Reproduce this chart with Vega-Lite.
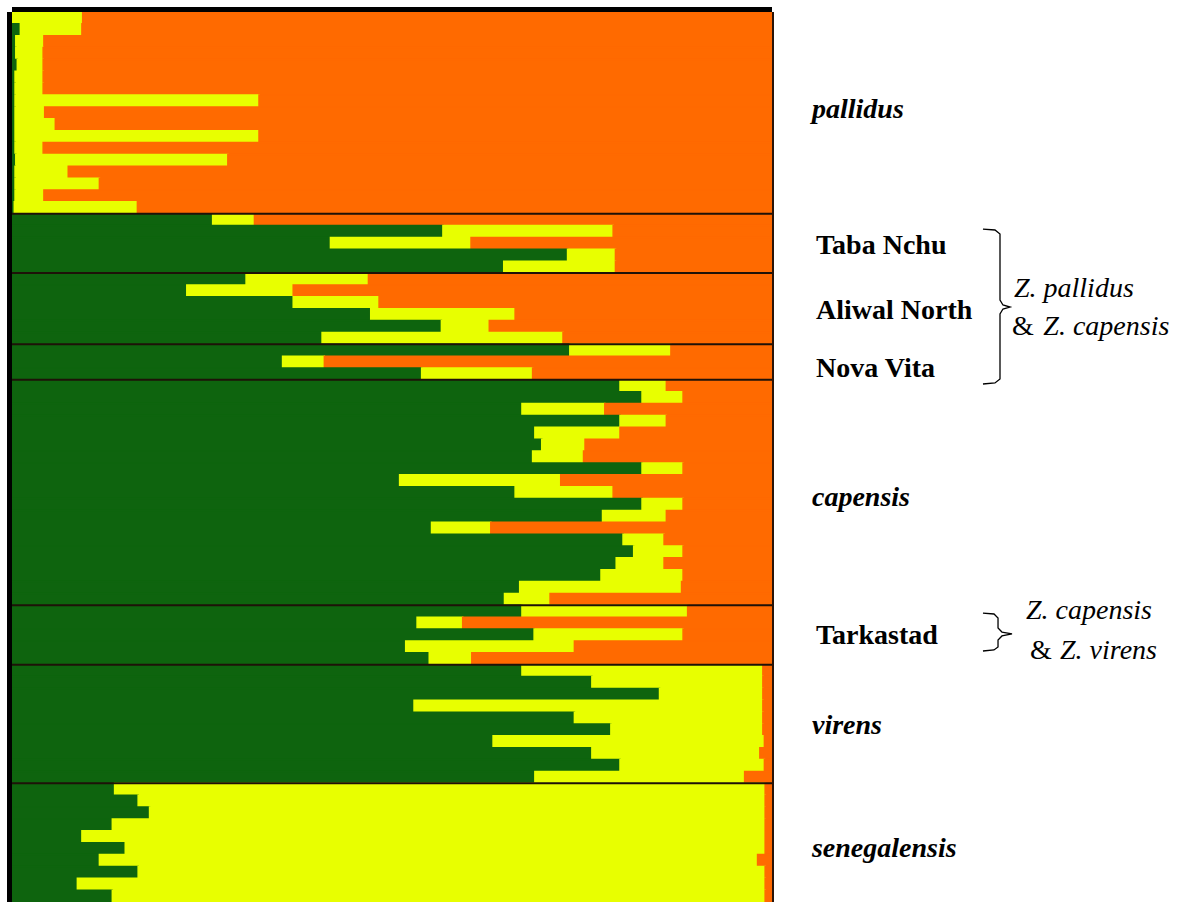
{
  "$schema": "https://vega.github.io/schema/vega-lite/v6.json",
  "width": 760,
  "height": 890,
  "autosize": {"type": "none"},
  "padding": {"left": 12, "top": 12, "right": 418, "bottom": 0},
  "background": "white",
  "config": {"view": {"stroke": null}},
  "datasets": {
    "q": [
      {"ind": 1, "K1": 0.001, "K2": 0.092, "K3": 0.907},
      {"ind": 2, "K1": 0.011, "K2": 0.081, "K3": 0.908},
      {"ind": 3, "K1": 0.005, "K2": 0.037, "K3": 0.958},
      {"ind": 4, "K1": 0.005, "K2": 0.036, "K3": 0.959},
      {"ind": 5, "K1": 0.007, "K2": 0.034, "K3": 0.959},
      {"ind": 6, "K1": 0.004, "K2": 0.037, "K3": 0.959},
      {"ind": 7, "K1": 0.004, "K2": 0.037, "K3": 0.959},
      {"ind": 8, "K1": 0.004, "K2": 0.321, "K3": 0.675},
      {"ind": 9, "K1": 0.004, "K2": 0.039, "K3": 0.957},
      {"ind": 10, "K1": 0.004, "K2": 0.053, "K3": 0.943},
      {"ind": 11, "K1": 0.004, "K2": 0.321, "K3": 0.675},
      {"ind": 12, "K1": 0.004, "K2": 0.037, "K3": 0.959},
      {"ind": 13, "K1": 0.005, "K2": 0.279, "K3": 0.716},
      {"ind": 14, "K1": 0.004, "K2": 0.070, "K3": 0.926},
      {"ind": 15, "K1": 0.004, "K2": 0.111, "K3": 0.885},
      {"ind": 16, "K1": 0.004, "K2": 0.038, "K3": 0.958},
      {"ind": 17, "K1": 0.003, "K2": 0.162, "K3": 0.835},
      {"ind": 18, "K1": 0.264, "K2": 0.055, "K3": 0.681},
      {"ind": 19, "K1": 0.567, "K2": 0.224, "K3": 0.209},
      {"ind": 20, "K1": 0.419, "K2": 0.185, "K3": 0.396},
      {"ind": 21, "K1": 0.731, "K2": 0.063, "K3": 0.206},
      {"ind": 22, "K1": 0.647, "K2": 0.147, "K3": 0.206},
      {"ind": 23, "K1": 0.308, "K2": 0.161, "K3": 0.531},
      {"ind": 24, "K1": 0.230, "K2": 0.140, "K3": 0.630},
      {"ind": 25, "K1": 0.370, "K2": 0.113, "K3": 0.517},
      {"ind": 26, "K1": 0.472, "K2": 0.190, "K3": 0.338},
      {"ind": 27, "K1": 0.565, "K2": 0.063, "K3": 0.372},
      {"ind": 28, "K1": 0.408, "K2": 0.317, "K3": 0.275},
      {"ind": 29, "K1": 0.734, "K2": 0.133, "K3": 0.133},
      {"ind": 30, "K1": 0.356, "K2": 0.055, "K3": 0.589},
      {"ind": 31, "K1": 0.539, "K2": 0.146, "K3": 0.315},
      {"ind": 32, "K1": 0.800, "K2": 0.061, "K3": 0.139},
      {"ind": 33, "K1": 0.829, "K2": 0.054, "K3": 0.117},
      {"ind": 34, "K1": 0.671, "K2": 0.109, "K3": 0.220},
      {"ind": 35, "K1": 0.800, "K2": 0.061, "K3": 0.139},
      {"ind": 36, "K1": 0.688, "K2": 0.112, "K3": 0.200},
      {"ind": 37, "K1": 0.697, "K2": 0.057, "K3": 0.246},
      {"ind": 38, "K1": 0.685, "K2": 0.067, "K3": 0.248},
      {"ind": 39, "K1": 0.829, "K2": 0.054, "K3": 0.117},
      {"ind": 40, "K1": 0.510, "K2": 0.212, "K3": 0.278},
      {"ind": 41, "K1": 0.662, "K2": 0.129, "K3": 0.209},
      {"ind": 42, "K1": 0.829, "K2": 0.054, "K3": 0.117},
      {"ind": 43, "K1": 0.777, "K2": 0.084, "K3": 0.139},
      {"ind": 44, "K1": 0.552, "K2": 0.078, "K3": 0.370},
      {"ind": 45, "K1": 0.804, "K2": 0.054, "K3": 0.142},
      {"ind": 46, "K1": 0.818, "K2": 0.065, "K3": 0.117},
      {"ind": 47, "K1": 0.795, "K2": 0.063, "K3": 0.142},
      {"ind": 48, "K1": 0.775, "K2": 0.108, "K3": 0.117},
      {"ind": 49, "K1": 0.668, "K2": 0.213, "K3": 0.119},
      {"ind": 50, "K1": 0.648, "K2": 0.060, "K3": 0.292},
      {"ind": 51, "K1": 0.671, "K2": 0.218, "K3": 0.111},
      {"ind": 52, "K1": 0.533, "K2": 0.060, "K3": 0.407},
      {"ind": 53, "K1": 0.687, "K2": 0.196, "K3": 0.117},
      {"ind": 54, "K1": 0.518, "K2": 0.222, "K3": 0.260},
      {"ind": 55, "K1": 0.549, "K2": 0.056, "K3": 0.395},
      {"ind": 56, "K1": 0.671, "K2": 0.317, "K3": 0.012},
      {"ind": 57, "K1": 0.763, "K2": 0.225, "K3": 0.012},
      {"ind": 58, "K1": 0.852, "K2": 0.136, "K3": 0.012},
      {"ind": 59, "K1": 0.529, "K2": 0.459, "K3": 0.012},
      {"ind": 60, "K1": 0.740, "K2": 0.248, "K3": 0.012},
      {"ind": 61, "K1": 0.788, "K2": 0.200, "K3": 0.012},
      {"ind": 62, "K1": 0.633, "K2": 0.357, "K3": 0.010},
      {"ind": 63, "K1": 0.763, "K2": 0.221, "K3": 0.016},
      {"ind": 64, "K1": 0.800, "K2": 0.190, "K3": 0.010},
      {"ind": 65, "K1": 0.688, "K2": 0.276, "K3": 0.036},
      {"ind": 66, "K1": 0.135, "K2": 0.856, "K3": 0.009},
      {"ind": 67, "K1": 0.166, "K2": 0.825, "K3": 0.009},
      {"ind": 68, "K1": 0.181, "K2": 0.810, "K3": 0.009},
      {"ind": 69, "K1": 0.132, "K2": 0.859, "K3": 0.009},
      {"ind": 70, "K1": 0.092, "K2": 0.899, "K3": 0.009},
      {"ind": 71, "K1": 0.149, "K2": 0.842, "K3": 0.009},
      {"ind": 72, "K1": 0.115, "K2": 0.866, "K3": 0.019},
      {"ind": 73, "K1": 0.166, "K2": 0.825, "K3": 0.009},
      {"ind": 74, "K1": 0.086, "K2": 0.905, "K3": 0.009},
      {"ind": 75, "K1": 0.132, "K2": 0.859, "K3": 0.009}
    ],
    "groups": [
      {"boundary": 17}, {"boundary": 22}, {"boundary": 28}, {"boundary": 31},
      {"boundary": 50}, {"boundary": 55}, {"boundary": 65}
    ],
    "species": [
      {"label": "pallidus", "px": 1.0526, "py": 8.26},
      {"label": "capensis", "px": 1.0526, "py": 40.95},
      {"label": "virens", "px": 1.0526, "py": 60.17},
      {"label": "senegalensis", "px": 1.0526, "py": 70.53}
    ],
    "pops": [
      {"label": "Taba Nchu", "px": 1.0579, "py": 19.72},
      {"label": "Aliwal North", "px": 1.0579, "py": 25.2},
      {"label": "Nova Vita", "px": 1.0579, "py": 30.08},
      {"label": "Tarkastad", "px": 1.0579, "py": 52.58}
    ],
    "notesItalic": [
      {"label": "Z. pallidus", "px": 1.3184, "py": 23.34},
      {"label": "Z. capensis", "px": 1.357, "py": 26.54},
      {"label": "Z. capensis", "px": 1.3342, "py": 50.48},
      {"label": "Z. virens", "px": 1.379, "py": 53.85}
    ],
    "notesAmp": [
      {"label": "&", "px": 1.3158, "py": 26.54},
      {"label": "&", "px": 1.3395, "py": 53.85}
    ],
    "braces": [
      {"brace": "a", "seq": 1, "px": 1.2776, "py": 18.29},
      {"brace": "a", "seq": 2, "px": 1.2934, "py": 18.37},
      {"brace": "a", "seq": 3, "px": 1.3, "py": 18.71},
      {"brace": "a", "seq": 4, "px": 1.3, "py": 24.27},
      {"brace": "a", "seq": 5, "px": 1.3039, "py": 24.69},
      {"brace": "a", "seq": 6, "px": 1.3132, "py": 24.86},
      {"brace": "a", "seq": 7, "px": 1.3039, "py": 25.03},
      {"brace": "a", "seq": 8, "px": 1.3, "py": 25.45},
      {"brace": "a", "seq": 9, "px": 1.3, "py": 30.93},
      {"brace": "a", "seq": 10, "px": 1.2934, "py": 31.26},
      {"brace": "a", "seq": 11, "px": 1.2776, "py": 31.35},
      {"brace": "b", "seq": 1, "px": 1.2776, "py": 50.65},
      {"brace": "b", "seq": 2, "px": 1.2921, "py": 50.73},
      {"brace": "b", "seq": 3, "px": 1.2974, "py": 51.07},
      {"brace": "b", "seq": 4, "px": 1.2974, "py": 51.91},
      {"brace": "b", "seq": 5, "px": 1.3026, "py": 52.25},
      {"brace": "b", "seq": 6, "px": 1.3158, "py": 52.41},
      {"brace": "b", "seq": 7, "px": 1.3026, "py": 52.58},
      {"brace": "b", "seq": 8, "px": 1.2974, "py": 52.92},
      {"brace": "b", "seq": 9, "px": 1.2974, "py": 53.51},
      {"brace": "b", "seq": 10, "px": 1.2921, "py": 53.76},
      {"brace": "b", "seq": 11, "px": 1.2776, "py": 53.85}
    ]
  },
  "layer": [
    {
      "data": {"name": "q"},
      "transform": [{"fold": ["K1", "K2", "K3"], "as": ["cluster", "share"]}],
      "mark": {"type": "bar", "clip": true, "strokeWidth": 1.5},
      "encoding": {
        "y": {"field": "ind", "type": "ordinal", "axis": null, "scale": {"paddingInner": 0, "paddingOuter": 0}},
        "x": {"field": "share", "type": "quantitative", "stack": "zero", "axis": null, "scale": {"domain": [0, 1], "nice": false}},
        "color": {"field": "cluster", "type": "nominal", "legend": null, "scale": {"domain": ["K1", "K2", "K3"], "range": ["#0e640e", "#e8ff00", "#ff6a00"]}},
        "stroke": {"field": "cluster", "type": "nominal", "legend": null, "scale": {"domain": ["K1", "K2", "K3"], "range": ["#0e640e", "#e8ff00", "#ff6a00"]}},
        "order": {"field": "cluster", "sort": "ascending"}
      }
    },
    {
      "data": {"name": "groups"},
      "mark": {"type": "rule", "color": "#1e1208", "strokeWidth": 2},
      "encoding": {
        "y": {"field": "boundary", "type": "quantitative", "axis": null, "scale": {"domain": [0, 75], "reverse": true, "nice": false, "zero": false}}
      }
    },
    {
      "data": {"values": [{"edge": 0}]},
      "mark": {"type": "rule", "color": "#000000", "strokeWidth": 5, "xOffset": -2.5},
      "encoding": {
        "x": {"field": "edge", "type": "quantitative", "axis": null, "scale": {"domain": [0, 1], "nice": false}}
      }
    },
    {
      "data": {"values": [{"edge": 1}]},
      "mark": {"type": "rule", "color": "#2a1408", "strokeWidth": 2, "xOffset": 1},
      "encoding": {
        "x": {"field": "edge", "type": "quantitative", "axis": null, "scale": {"domain": [0, 1], "nice": false}}
      }
    },
    {
      "data": {"values": [{"edge": 0}]},
      "mark": {"type": "rule", "color": "#000000", "strokeWidth": 5, "yOffset": -2.5},
      "encoding": {
        "y": {"field": "edge", "type": "quantitative", "axis": null, "scale": {"domain": [0, 75], "reverse": true, "nice": false, "zero": false}}
      }
    },
    {
      "data": {"name": "species"},
      "mark": {"type": "text", "font": "'Liberation Serif', 'Times New Roman', Times, serif", "fontSize": 28, "fontWeight": "bold", "fontStyle": "italic", "align": "left", "baseline": "middle", "color": "#000000"},
      "encoding": {
        "x": {"field": "px", "type": "quantitative", "axis": null, "scale": {"domain": [0, 1], "nice": false}},
        "y": {"field": "py", "type": "quantitative", "axis": null, "scale": {"domain": [0, 75], "reverse": true, "nice": false, "zero": false}},
        "text": {"field": "label"}
      }
    },
    {
      "data": {"name": "pops"},
      "mark": {"type": "text", "font": "'Liberation Serif', 'Times New Roman', Times, serif", "fontSize": 28, "fontWeight": "bold", "align": "left", "baseline": "middle", "color": "#000000"},
      "encoding": {
        "x": {"field": "px", "type": "quantitative", "axis": null, "scale": {"domain": [0, 1], "nice": false}},
        "y": {"field": "py", "type": "quantitative", "axis": null, "scale": {"domain": [0, 75], "reverse": true, "nice": false, "zero": false}},
        "text": {"field": "label"}
      }
    },
    {
      "data": {"name": "notesItalic"},
      "mark": {"type": "text", "font": "'Liberation Serif', 'Times New Roman', Times, serif", "fontSize": 28, "fontStyle": "italic", "align": "left", "baseline": "middle", "color": "#000000"},
      "encoding": {
        "x": {"field": "px", "type": "quantitative", "axis": null, "scale": {"domain": [0, 1], "nice": false}},
        "y": {"field": "py", "type": "quantitative", "axis": null, "scale": {"domain": [0, 75], "reverse": true, "nice": false, "zero": false}},
        "text": {"field": "label"}
      }
    },
    {
      "data": {"name": "notesAmp"},
      "mark": {"type": "text", "font": "'Liberation Serif', 'Times New Roman', Times, serif", "fontSize": 28, "align": "left", "baseline": "middle", "color": "#000000"},
      "encoding": {
        "x": {"field": "px", "type": "quantitative", "axis": null, "scale": {"domain": [0, 1], "nice": false}},
        "y": {"field": "py", "type": "quantitative", "axis": null, "scale": {"domain": [0, 75], "reverse": true, "nice": false, "zero": false}},
        "text": {"field": "label"}
      }
    },
    {
      "data": {"name": "braces"},
      "mark": {"type": "line", "color": "#000000", "strokeWidth": 1.3},
      "encoding": {
        "x": {"field": "px", "type": "quantitative", "axis": null, "scale": {"domain": [0, 1], "nice": false}},
        "y": {"field": "py", "type": "quantitative", "axis": null, "scale": {"domain": [0, 75], "reverse": true, "nice": false, "zero": false}},
        "detail": {"field": "brace"},
        "order": {"field": "seq"}
      }
    }
  ],
  "resolve": {"scale": {"y": "independent"}}
}
